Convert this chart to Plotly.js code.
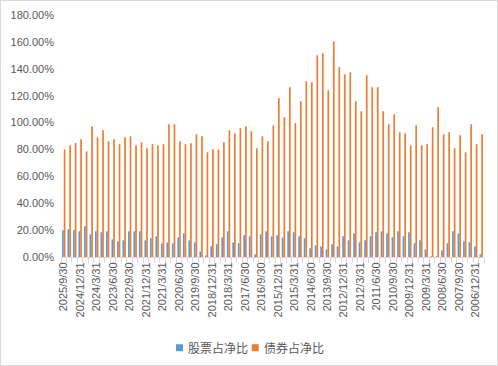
<!DOCTYPE html>
<html>
<head>
<meta charset="utf-8">
<script src="https://cdn.plot.ly/plotly-3.0.1.min.js"></script>
<style>
  html, body { margin: 0; padding: 0; background: #fff; }
  #wrap { position: relative; width: 498px; height: 366px; }
  #chart { width: 498px; height: 366px; }
  #frame { position: absolute; left: 0; top: 0; width: 498px; height: 366px; box-sizing: border-box; border: 1px solid #d9d9d9; pointer-events: none; }
</style>
</head>
<body>
<div id="wrap"><div id="chart"></div><div id="frame"></div></div>
<script>
const dates = [
  "2025/9/30","2025/6/30","2025/3/31",
  "2024/12/31","2024/9/30","2024/6/30","2024/3/31",
  "2023/12/31","2023/9/30","2023/6/30","2023/3/31",
  "2022/12/31","2022/9/30","2022/6/30","2022/3/31",
  "2021/12/31","2021/9/30","2021/6/30","2021/3/31",
  "2020/12/31","2020/9/30","2020/6/30","2020/3/31",
  "2019/12/31","2019/9/30","2019/6/30","2019/3/31",
  "2018/12/31","2018/9/30","2018/6/30","2018/3/31",
  "2017/12/31","2017/9/30","2017/6/30","2017/3/31",
  "2016/12/31","2016/9/30","2016/6/30","2016/3/31",
  "2015/12/31","2015/9/30","2015/6/30","2015/3/31",
  "2014/12/31","2014/9/30","2014/6/30","2014/3/31",
  "2013/12/31","2013/9/30","2013/6/30","2013/3/31",
  "2012/12/31","2012/9/30","2012/6/30","2012/3/31",
  "2011/12/31","2011/9/30","2011/6/30","2011/3/31",
  "2010/12/31","2010/9/30","2010/6/30","2010/3/31",
  "2009/12/31","2009/9/30","2009/6/30","2009/3/31",
  "2008/12/31","2008/9/30","2008/6/30","2008/3/31",
  "2007/12/31","2007/9/30","2007/6/30","2007/3/31",
  "2006/12/31","2006/9/30"
];

// 股票占净比 (%)
const stockPct = [
  19.9,20.6,19.9,19.1,22.8,16.9,19.1,18.4,19.1,13.1,
  11.6,12.4,19.1,19.1,19.1,12.4,13.9,15.4,10.1,10.9,
  10.1,14.6,17.6,12.4,10.9,4.1,1.2,8.0,9.5,14.7,
  19.1,10.9,10.2,16.2,15.4,2.0,16.9,19.1,15.4,16.1,
  14.6,19.1,18.4,15.4,13.9,6.5,8.7,7.9,5.7,9.4,
  7.9,15.4,12.4,17.6,10.9,12.4,15.4,18.4,19.1,17.6,
  14.7,19.1,15.4,18.4,10.2,12.4,5.7,0.5,0.5,5.0,
  10.2,19.1,17.6,11.7,10.9,7.9,2.0
];

// 债券占净比 (%)
const bondPct = [
  80.1,83.1,84.8,87.6,78.6,97.2,89.1,94.3,86.1,87.6,
  83.9,89.1,89.8,83.1,85.4,80.9,83.9,83.1,83.9,98.7,
  98.7,86.1,83.9,84.6,91.3,89.8,77.9,80.1,80.1,85.3,
  94.3,92.1,95.8,97.3,93.5,80.9,89.8,86.1,98.0,118.1,
  104.0,126.3,99.5,115.9,130.7,130.0,150.1,151.6,124.0,160.5,
  141.2,135.9,137.4,115.9,108.4,135.2,126.3,126.3,108.4,98.7,
  106.2,92.8,92.1,83.1,98.0,83.1,83.9,96.5,111.4,91.3,
  92.8,80.9,90.6,77.9,98.7,83.9,91.3
];

const seriesNames = ["股票占净比", "债券占净比"];
const seriesColors = ["#5B9BD5", "#ED7D31"];
const yTicks = [0,20,40,60,80,100,120,140,160,180];

const tickText = dates.map((d, i) => (i % 3 === 0 ? d : ""));

const font = "'Liberation Sans', Arial, 'Noto Sans CJK SC', sans-serif";
const cjk = "'Noto Sans CJK SC', sans-serif";

// plot-area geometry (pixels) for the hand-placed legend
const W = 498, H = 366, ML = 61, MR = 14, MT = 15, MB = 109;
const PW = W - ML - MR, PH = H - MT - MB;
const px = v => (v - ML) / PW;
const py = v => (H - MB - v) / PH;

const traces = [
  { type: "bar", name: seriesNames[0], x: dates, y: stockPct,
    marker: { color: seriesColors[0] }, hoverinfo: "x+y" },
  { type: "bar", name: seriesNames[1], x: dates, y: bondPct,
    marker: { color: seriesColors[1] }, hoverinfo: "x+y" }
];

const legendItems = [
  { sq: 176, tx: 185.7 },
  { sq: 251.7, tx: 262 }
];
const shapes = legendItems.map((it, i) => ({
  type: "rect", xref: "paper", yref: "paper",
  x0: px(it.sq), x1: px(it.sq + 7), y0: py(351.2), y1: py(344.2),
  fillcolor: seriesColors[i], line: { width: 0 }
}));
const annotations = legendItems.map((it, i) => ({
  xref: "paper", yref: "paper", x: px(it.tx), y: py(347.7),
  xanchor: "left", yanchor: "middle", showarrow: false,
  text: seriesNames[i], font: { family: cjk, size: 12, color: "#595959" }
}));

const layout = {
  width: W, height: H,
  margin: { l: ML, r: MR, t: MT, b: MB, autoexpand: false },
  paper_bgcolor: "#ffffff", plot_bgcolor: "#ffffff",
  barmode: "group", bargap: 0.38, bargroupgap: 0,
  font: { family: font, size: 11, color: "#595959" },
  showlegend: false,
  shapes: shapes, annotations: annotations,
  xaxis: {
    type: "category",
    tickmode: "array", tickvals: dates, ticktext: tickText,
    tickson: "boundaries", ticks: "outside", ticklen: 5, tickcolor: "#d9d9d9", tickwidth: 1,
    tickangle: -90, tickfont: { family: font, size: 11, color: "#595959" },
    showline: true, linecolor: "#d9d9d9", linewidth: 1,
    showgrid: false, zeroline: false, automargin: false
  },
  yaxis: {
    range: [0, 180], tickmode: "array", tickvals: yTicks,
    ticktext: yTicks.map(v => v.toFixed(2) + "%"),
    showgrid: false, zeroline: false, showline: false, ticks: "",
    ticklabelstandoff: 6,
    tickfont: { family: font, size: 11, color: "#595959" }, automargin: false
  }
};

Plotly.newPlot("chart", traces, layout, { displayModeBar: false, staticPlot: true });
</script>
</body>
</html>
